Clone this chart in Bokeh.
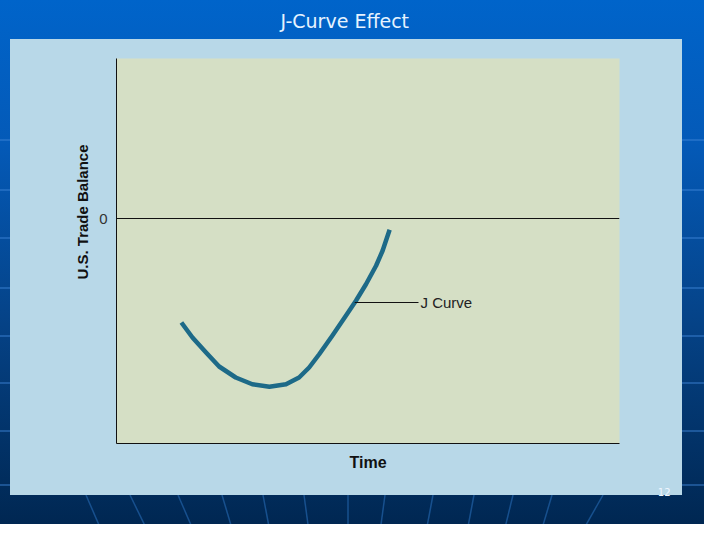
import numpy as np
from urllib.parse import quote
from bokeh.plotting import figure
from bokeh.models import Range1d, FixedTicker, Label, Span, Title
from bokeh.embed import file_html
from bokeh.resources import INLINE

# ---------------- data ----------------
time = [1.29, 1.51, 1.78, 2.04, 2.37, 2.70, 3.04, 3.37, 3.63, 3.83,
        4.03, 4.29, 4.56, 4.76, 4.96, 5.16, 5.29, 5.43]
balance = [-4.16, -4.76, -5.36, -5.92, -6.36, -6.63, -6.73, -6.63, -6.36, -5.96,
           -5.43, -4.69, -3.89, -3.29, -2.63, -1.89, -1.29, -0.45]
y_ticks = [0]
y_tick_labels = {0: "0"}
title_text = "J-Curve Effect"
y_label = "U.S. Trade Balance"
x_label = "Time"
curve_label = "J Curve"
curve_label_balance = -3.36
page_number = "12"

# ---------------- layout ----------------
W, H = 704, 524
LEFT, RIGHT, TOP, BOTTOM = 116, 85, 58, 81
PANEL = (10, 39, 672, 456)  # x, y, w, h (canvas px)

# slide background (styling only): blue gradient, faint stripes, light panel
side_stripes = [139, 189, 237, 287, 335, 382, 430, 484]
rays = [(86, 102), (130, 148), (178, 194), (222, 233), (263, 270), (304, 309),
        (348, 348), (385, 380), (433, 426), (474, 467), (513, 504), (552, 541),
        (603, 582)]
px, py, pw, ph = PANEL
parts = [f'<svg xmlns="http://www.w3.org/2000/svg" width="{W}" height="{H}">',
         '<defs><linearGradient id="g" x1="0" y1="0" x2="0" y2="1">'
         '<stop offset="0" stop-color="#0064ca"/>'
         '<stop offset="0.27" stop-color="#045ab8"/>'
         '<stop offset="0.62" stop-color="#054286"/>'
         '<stop offset="1" stop-color="#002752"/>'
         '</linearGradient></defs>',
         f'<rect x="0" y="0" width="{W}" height="{H}" fill="url(#g)"/>']
for ys in side_stripes:
    parts.append(f'<rect x="0" y="{ys}" width="{W}" height="2" fill="#3f86d6" fill-opacity="0.45"/>')
for xt, xb in rays:
    parts.append(f'<line x1="{xt}" y1="{py + ph}" x2="{xb}" y2="{H + 8}" '
                 f'stroke="#1d5a9c" stroke-opacity="0.8" stroke-width="1.5"/>')
parts.append(f'<rect x="{px}" y="{py}" width="{pw}" height="{ph}" fill="#b8d8e8"/>')
parts.append('</svg>')
bg = quote("".join(parts), safe="")

p = figure(width=W, height=H, output_backend="svg", toolbar_location=None,
           title=None, x_range=Range1d(0, 10), y_range=Range1d(-9, 6.4),
           min_border_left=LEFT, min_border_right=RIGHT,
           min_border_top=TOP, min_border_bottom=BOTTOM)
p.styles = {"background-image": f'url("data:image/svg+xml,{bg}")',
            "background-repeat": "no-repeat",
            "background-size": f"{W}px {H}px"}
p.border_fill_alpha = 0
p.background_fill_color = "#d5dfc5"
p.outline_line_color = None
p.grid.visible = False

# ---------------- axes ----------------
p.yaxis.ticker = FixedTicker(ticks=y_ticks)
p.yaxis.major_label_overrides = y_tick_labels
p.yaxis.major_tick_line_color = None
p.yaxis.minor_tick_line_color = None
p.yaxis.major_tick_in = 0
p.yaxis.major_tick_out = 0
p.yaxis.major_label_standoff = 9
p.yaxis.major_label_text_font = "Liberation Sans"
p.yaxis.major_label_text_font_size = "15px"
p.yaxis.major_label_text_color = "#333333"
p.yaxis.axis_line_color = "#111111"

p.xaxis.ticker = FixedTicker(ticks=[])
p.xaxis.major_tick_line_color = None
p.xaxis.minor_tick_line_color = None
p.xaxis.major_label_text_font_size = "0px"
p.xaxis.axis_line_color = "#111111"
p.xaxis.axis_label = x_label
p.xaxis.axis_label_text_font = "Liberation Sans"
p.xaxis.axis_label_text_font_style = "bold"
p.xaxis.axis_label_text_font_size = "16px"
p.xaxis.axis_label_text_color = "#111111"
p.xaxis.axis_label_standoff = 10

# zero line
p.add_layout(Span(location=0, dimension="width", line_color="#111111", line_width=1))

# ---------------- J curve ----------------
p.line(time, balance, line_color="#1d6a88", line_width=4.5,
       line_join="round", line_cap="butt")

# leader line + label
rise = slice(int(np.argmin(balance)), None)
lead_x = float(np.interp(curve_label_balance, balance[rise], time[rise]))
lab_x = (418 - LEFT) / (W - LEFT - RIGHT) * 10
p.segment(x0=[lead_x], y0=[curve_label_balance], x1=[lab_x], y1=[curve_label_balance],
          line_color="#111111", line_width=1)
p.add_layout(Label(x=lab_x, y=curve_label_balance, text=curve_label,
                   text_font="Liberation Sans", text_font_size="15px",
                   text_color="#222222", text_align="left", text_baseline="middle",
                   x_offset=2))

# ---------------- titles around the frame ----------------
# the trailing empty line only makes the title box taller, lifting the text
p.add_layout(Title(text=title_text + "\n", align="left", offset=164, standoff=6,
                   vertical_align="top",
                   text_font="DejaVu Sans", text_font_size="19px",
                   text_font_style="normal", text_color="#e6f3ff"), "above")
p.add_layout(Title(text=y_label, align="left", offset=164, standoff=12,
                   text_font="Liberation Sans", text_font_size="15px",
                   text_font_style="bold", text_color="#111111"), "left")
p.add_layout(Title(text=page_number, align="right", offset=-51, standoff=25,
                   text_font="DejaVu Sans", text_font_size="10px",
                   text_font_style="normal", text_color="#f0f6ff"), "below")

open("out.html", "w").write(file_html(p, INLINE))
